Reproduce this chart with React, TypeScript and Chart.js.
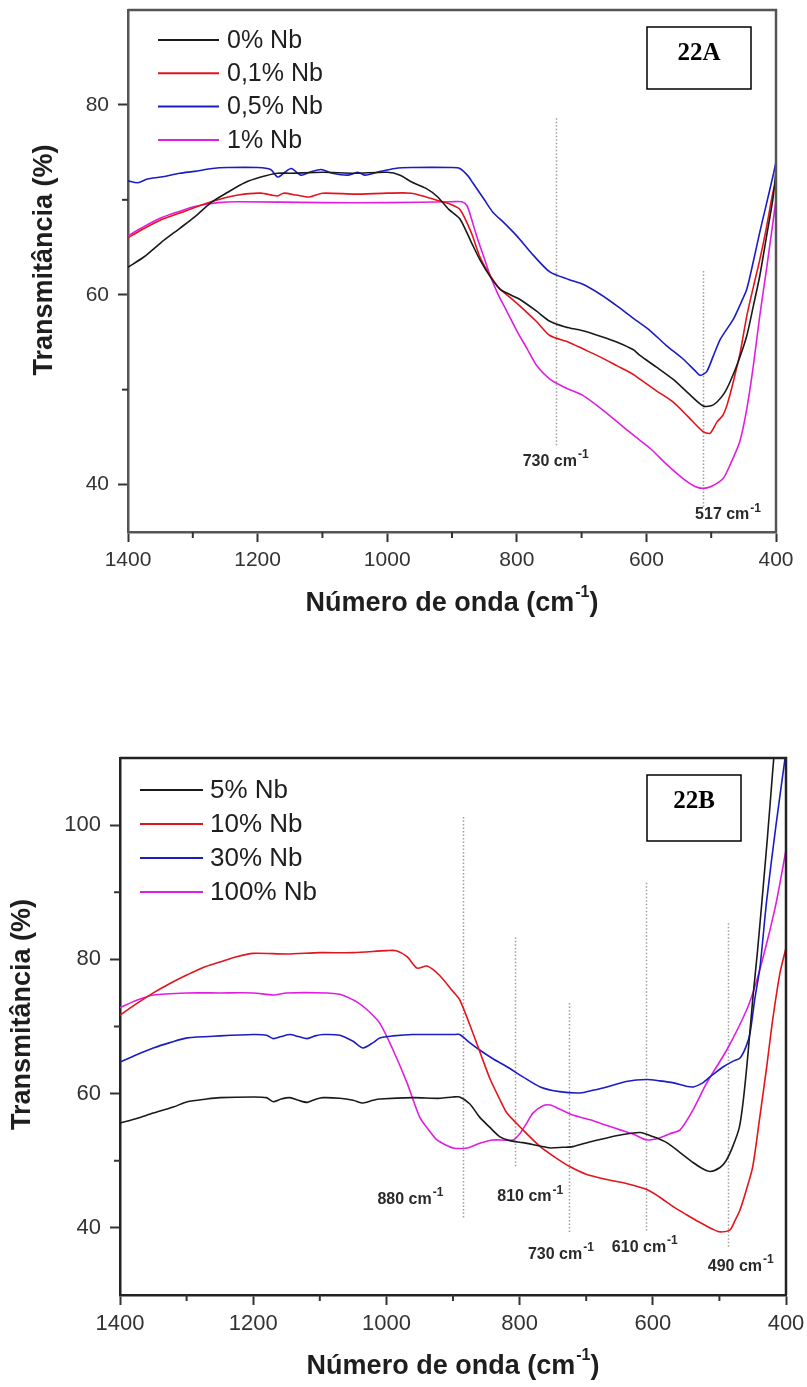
import React, { useEffect, useRef } from 'react';
import { Chart, registerables } from 'chart.js';

Chart.register(...registerables);

const SANS = "'Liberation Sans', Arial, Helvetica, sans-serif";
const SERIF = "'Liberation Serif', 'Times New Roman', serif";

// ---------------- Panel 22A ----------------
const labelsA = ['0% Nb', '0,1% Nb', '0,5% Nb', '1% Nb'];
const colorsA = ['#1a1a1a', '#e3141c', '#1c1cc4', '#e01ee0'];

const waveA0 = [1400, 1375, 1349, 1320, 1297, 1270, 1246, 1220, 1195, 1169, 1150, 1100, 1050, 1000, 980, 963, 940, 922, 905, 888, 870, 857, 840, 826, 810, 795, 770, 749, 725, 698, 670, 645, 620, 610, 585, 559, 535, 513, 500, 491, 480, 471, 458, 445, 435, 425, 415, 405, 400];
const transA0 = [62.9, 64.0, 65.5, 67.0, 68.2, 69.8, 70.8, 71.8, 72.4, 72.8, 72.8, 72.9, 72.8, 72.9, 72.6, 71.9, 71.2, 70.3, 69.0, 68.0, 65.5, 63.7, 61.8, 60.6, 60.0, 59.5, 58.3, 57.2, 56.6, 56.2, 55.6, 55.0, 54.2, 53.6, 52.4, 51.1, 49.6, 48.3, 48.3, 48.7, 49.6, 50.8, 53.0, 55.7, 58.8, 62.0, 66.0, 70.0, 73.0];

const waveA1 = [1400, 1380, 1349, 1320, 1297, 1261, 1230, 1195, 1170, 1160, 1140, 1120, 1100, 1050, 1000, 963, 940, 920, 905, 888, 870, 857, 841, 826, 810, 795, 770, 749, 720, 698, 670, 645, 620, 610, 585, 559, 535, 513, 502, 491, 482, 475, 466, 455, 445, 435, 425, 415, 405, 400];
const transA1 = [66.0, 66.8, 67.9, 68.6, 69.2, 70.0, 70.5, 70.7, 70.4, 70.7, 70.5, 70.3, 70.7, 70.6, 70.7, 70.7, 70.3, 69.9, 69.6, 69.0, 66.5, 64.0, 62.0, 60.6, 59.7, 58.8, 57.2, 55.7, 55.0, 54.3, 53.4, 52.5, 51.6, 51.1, 49.9, 48.7, 47.1, 45.6, 45.4, 46.6, 47.3, 48.5, 50.8, 54.0, 57.8, 60.8, 63.7, 67.0, 70.7, 72.0];

const waveA2 = [1400, 1385, 1370, 1349, 1320, 1297, 1270, 1246, 1200, 1180, 1169, 1158, 1148, 1133, 1120, 1102, 1085, 1060, 1045, 1034, 1010, 988, 963, 900, 888, 875, 868, 850, 837, 820, 800, 775, 749, 720, 698, 670, 645, 620, 594, 570, 543, 525, 517, 507, 497, 486, 466, 455, 445, 435, 425, 415, 405, 400];
const transA2 = [72.0, 71.8, 72.2, 72.4, 72.8, 73.0, 73.3, 73.4, 73.4, 73.2, 72.4, 72.9, 73.3, 72.6, 72.9, 73.2, 72.8, 72.6, 72.9, 72.6, 73.0, 73.3, 73.4, 73.4, 73.3, 72.5, 71.8, 70.0, 68.7, 67.6, 66.2, 64.2, 62.4, 61.6, 61.1, 60.0, 58.8, 57.5, 56.2, 54.7, 53.2, 52.0, 51.5, 51.9, 53.5, 55.3, 57.4, 59.0, 60.6, 63.5, 66.6, 69.5, 72.4, 74.0];

const waveA3 = [1400, 1380, 1349, 1320, 1297, 1261, 1230, 1100, 1000, 900, 885, 877, 870, 862, 850, 841, 830, 815, 800, 784, 770, 749, 725, 698, 670, 645, 620, 594, 570, 543, 525, 513, 500, 482, 470, 456, 445, 435, 425, 414, 405, 400];
const transA3 = [66.2, 67.0, 68.1, 68.8, 69.3, 69.7, 69.8, 69.7, 69.7, 69.8, 69.8, 69.4, 68.0, 66.2, 63.8, 62.0, 60.2, 58.2, 56.2, 54.3, 52.6, 51.1, 50.2, 49.4, 48.0, 46.6, 45.2, 43.8, 42.2, 40.6, 39.8, 39.6, 39.8, 40.6, 42.2, 44.5, 48.0, 52.5, 57.8, 63.0, 67.5, 70.0];

const yTicksA = [40, 50, 60, 70, 80];
const yLabelsA = [40, 60, 80];

const peakTextA = ['730', '517'];
const peakLineWaveA = [740, 513];
const peakLineTopA = [78.6, 62.5];
const peakLineBottomA = [44.1, 37.5];
const peakLabelWaveA = [740, 474];
const peakLabelTransA = [42.4, 36.8];

// ---------------- Panel 22B ----------------
const labelsB = ['5% Nb', '10% Nb', '30% Nb', '100% Nb'];
const colorsB = ['#1a1a1a', '#e3141c', '#1c1cc4', '#e01ee0'];

const waveB0 = [1400, 1375, 1350, 1320, 1299, 1270, 1250, 1200, 1180, 1170, 1158, 1145, 1132, 1119, 1105, 1095, 1070, 1050, 1035, 1020, 1010, 960, 920, 900, 890, 875, 860, 845, 830, 815, 795, 770, 754, 735, 720, 695, 669, 645, 619, 600, 579, 560, 539, 525, 514, 499, 490, 480, 470, 464, 457, 450, 443, 436, 428, 420, 415];
const transB0 = [55.6, 56.3, 57.1, 58.0, 58.8, 59.2, 59.4, 59.5, 59.4, 58.8, 59.2, 59.4, 59.0, 58.7, 59.2, 59.4, 59.3, 59.0, 58.6, 59.0, 59.2, 59.4, 59.3, 59.5, 59.5, 58.5, 56.5, 55.0, 53.6, 53.0, 52.7, 52.2, 51.9, 52.0, 52.1, 52.8, 53.4, 53.9, 54.2, 53.6, 52.7, 51.3, 49.7, 48.8, 48.4, 49.0, 50.0, 52.1, 55.0, 59.1, 66.0, 74.0, 81.0, 88.8, 98.0, 108.0, 114.0];

const waveB1 = [1400, 1375, 1350, 1325, 1299, 1275, 1250, 1225, 1200, 1150, 1100, 1050, 1000, 985, 969, 954, 939, 920, 900, 890, 870, 857, 844, 830, 819, 795, 769, 745, 724, 700, 669, 640, 609, 590, 570, 550, 529, 510, 499, 484, 477, 469, 460, 450, 440, 429, 420, 409, 400];
const transB1 = [71.7, 73.4, 75.0, 76.4, 77.7, 78.8, 79.6, 80.4, 80.9, 80.8, 81.0, 81.0, 81.3, 81.3, 80.4, 78.7, 79.0, 77.6, 75.2, 74.0, 69.0, 65.5, 62.1, 59.2, 57.1, 54.6, 52.1, 50.4, 49.1, 48.0, 47.2, 46.6, 45.7, 44.6, 43.2, 42.0, 40.8, 39.8, 39.4, 39.7, 41.0, 42.7, 45.5, 49.1, 56.0, 64.0, 71.0, 78.0, 81.7];

const waveB2 = [1400, 1375, 1350, 1325, 1299, 1250, 1200, 1180, 1170, 1158, 1145, 1132, 1119, 1107, 1095, 1070, 1050, 1035, 1020, 1010, 990, 960, 900, 890, 875, 860, 840, 819, 795, 769, 740, 709, 690, 669, 640, 609, 590, 569, 550, 539, 525, 519, 505, 494, 480, 469, 460, 454, 447, 439, 429, 415, 400];
const transB2 = [64.7, 65.8, 66.8, 67.6, 68.3, 68.6, 68.8, 68.7, 68.2, 68.5, 68.8, 68.5, 68.2, 68.6, 68.8, 68.7, 67.8, 66.8, 67.6, 68.3, 68.6, 68.8, 68.8, 68.8, 67.6, 66.5, 65.2, 64.0, 62.5, 61.0, 60.3, 60.1, 60.5, 61.0, 61.8, 62.1, 61.9, 61.6, 61.1, 61.0, 61.6, 62.1, 63.2, 64.0, 64.8, 65.3, 67.0, 69.0, 74.0, 78.9, 88.8, 100.0, 111.0];

const waveB3 = [1400, 1375, 1350, 1300, 1250, 1200, 1170, 1150, 1089, 1070, 1059, 1045, 1029, 1010, 990, 969, 950, 935, 924, 910, 900, 879, 860, 840, 810, 800, 790, 780, 765, 754, 740, 720, 694, 670, 649, 630, 609, 590, 575, 559, 540, 519, 489, 459, 445, 429, 414, 400];
const transB3 = [72.8, 73.9, 74.7, 75.0, 75.0, 75.0, 74.7, 75.0, 75.0, 74.8, 74.4, 73.7, 72.5, 70.5, 66.5, 61.6, 56.5, 54.4, 53.1, 52.3, 51.9, 51.9, 52.6, 53.1, 53.1, 54.0, 55.5, 57.1, 58.2, 58.3, 57.7, 56.8, 56.1, 55.3, 54.6, 54.0, 53.1, 53.4, 54.0, 54.6, 57.5, 61.6, 66.5, 72.5, 76.5, 82.4, 88.8, 96.3];

const yTicksB = [40, 50, 60, 70, 80, 90, 100];
const yLabelsB = [40, 60, 80, 100];

const peakTextB = ['880', '810', '730', '610', '490'];
const peakLineWaveB = [885, 807, 726, 610, 487];
const peakLineTopB = [101.2, 83.3, 73.5, 91.4, 85.4];
const peakLineBottomB = [41.5, 49.1, 39.4, 39.4, 37.2];
const peakLabelWaveB = [964, 784, 738, 612, 468];
const peakLabelTransB = [44.2, 44.6, 36.0, 37.1, 34.2];

// ---------------- shared axis values ----------------
const xTicks = [1400, 1300, 1200, 1100, 1000, 900, 800, 700, 600, 500, 400];
const xLabels = [1400, 1200, 1000, 800, 600, 400];
const yTitle = 'Transmitância (%)';

type Panel = {
  tag: string;
  labels: string[];
  colors: string[];
  waves: number[][];
  trans: number[][];
  yMin: number;
  yMax: number;
  yTicks: number[];
  yLabels: number[];
  peakText: string[];
  peakLineWave: number[];
  peakLineTop: number[];
  peakLineBottom: number[];
  peakLabelWave: number[];
  peakLabelTrans: number[];
  padding: { left: number; top: number; right: number; bottom: number };
  yAxisW: number;
  xAxisH: number;
  yTitleX: number;
  yTitleShift: number;
  tickFont: number;
  legendFont: number;
  legendTop: number;
  legendGap: number;
  legendLine: [number, number];
  legendText: number;
  frameColor: string;
  tagBox: { right: number; top: number; w: number; h: number };
};

const panelA: Panel = {
  tag: '22A',
  labels: labelsA,
  colors: colorsA,
  waves: [waveA0, waveA1, waveA2, waveA3],
  trans: [transA0, transA1, transA2, transA3],
  yMin: 35,
  yMax: 90,
  yTicks: yTicksA,
  yLabels: yLabelsA,
  peakText: peakTextA,
  peakLineWave: peakLineWaveA,
  peakLineTop: peakLineTopA,
  peakLineBottom: peakLineBottomA,
  peakLabelWave: peakLabelWaveA,
  peakLabelTrans: peakLabelTransA,
  padding: { left: 0, top: 10, right: 31, bottom: 0 },
  yAxisW: 128,
  xAxisH: 118,
  yTitleX: 45,
  yTitleShift: -11,
  tickFont: 21,
  legendFont: 25,
  legendTop: 30,
  legendGap: 33.3,
  legendLine: [30, 91],
  legendText: 99,
  frameColor: '#555555',
  tagBox: { right: 25, top: 17, w: 104, h: 62 },
};

const panelB: Panel = {
  tag: '22B',
  labels: labelsB,
  colors: colorsB,
  waves: [waveB0, waveB1, waveB2, waveB3],
  trans: [transB0, transB1, transB2, transB3],
  yMin: 30,
  yMax: 110,
  yTicks: yTicksB,
  yLabels: yLabelsB,
  peakText: peakTextB,
  peakLineWave: peakLineWaveB,
  peakLineTop: peakLineTopB,
  peakLineBottom: peakLineBottomB,
  peakLabelWave: peakLabelWaveB,
  peakLabelTrans: peakLabelTransB,
  padding: { left: 0, top: 58, right: 21, bottom: 0 },
  yAxisW: 120,
  xAxisH: 92,
  yTitleX: 23,
  yTitleShift: -12,
  tickFont: 22,
  legendFont: 26,
  legendTop: 32,
  legendGap: 34,
  legendLine: [20, 83],
  legendText: 90,
  frameColor: '#222222',
  tagBox: { right: 45, top: 17, w: 94, h: 66 },
};

function drawSup(
  ctx: CanvasRenderingContext2D,
  before: string,
  sup: string,
  after: string,
  cx: number,
  cy: number,
  size: number,
  supSize: number,
  weight: string
) {
  const main = `${weight} ${size}px ${SANS}`;
  const small = `${weight} ${supSize}px ${SANS}`;
  ctx.font = main;
  const w1 = ctx.measureText(before).width;
  const w3 = after ? ctx.measureText(after).width : 0;
  ctx.font = small;
  const w2 = ctx.measureText(sup).width;
  let x = cx - (w1 + w2 + w3 + 1) / 2;
  ctx.textAlign = 'left';
  ctx.textBaseline = 'middle';
  ctx.font = main;
  ctx.fillText(before, x, cy);
  x += w1 + 1;
  ctx.font = small;
  ctx.fillText(sup, x, cy - size * 0.42);
  x += w2;
  if (after) {
    ctx.font = main;
    ctx.fillText(after, x, cy);
  }
}

function makePlugin(p: Panel) {
  return {
    id: 'panelDecor',
    beforeDatasetsDraw(chart: any) {
      const { ctx, chartArea: a, scales } = chart;
      const xs = scales.x;
      const ys = scales.y;
      ctx.save();
      ctx.beginPath();
      ctx.rect(a.left, a.top, a.right - a.left, a.bottom - a.top);
      ctx.clip();
      ctx.strokeStyle = '#a0a0a0';
      ctx.lineWidth = 1.5;
      ctx.setLineDash([1.5, 2]);
      p.peakLineWave.forEach((w, i) => {
        const px = Math.round(xs.getPixelForValue(w)) + 0.5;
        ctx.beginPath();
        ctx.moveTo(px, ys.getPixelForValue(p.peakLineTop[i]));
        ctx.lineTo(px, ys.getPixelForValue(p.peakLineBottom[i]));
        ctx.stroke();
      });
      ctx.restore();
    },
    afterDraw(chart: any) {
      const { ctx, chartArea: a, scales } = chart;
      const xs = scales.x;
      const ys = scales.y;
      ctx.save();
      // frame top & right
      ctx.strokeStyle = p.frameColor;
      ctx.lineWidth = 2.5;
      ctx.beginPath();
      ctx.moveTo(a.left, a.top);
      ctx.lineTo(a.right, a.top);
      ctx.lineTo(a.right, a.bottom);
      ctx.stroke();
      // minor ticks
      ctx.lineWidth = 2;
      ctx.strokeStyle = '#333333';
      xTicks.forEach((v) => {
        if (xLabels.includes(v)) return;
        const px = xs.getPixelForValue(v);
        ctx.beginPath();
        ctx.moveTo(px, a.bottom);
        ctx.lineTo(px, a.bottom + 6);
        ctx.stroke();
      });
      p.yTicks.forEach((v) => {
        if (p.yLabels.includes(v)) return;
        const py = ys.getPixelForValue(v);
        ctx.beginPath();
        ctx.moveTo(a.left - 6, py);
        ctx.lineTo(a.left, py);
        ctx.stroke();
      });
      // peak labels
      ctx.fillStyle = '#2a2a2a';
      p.peakText.forEach((t, i) => {
        drawSup(
          ctx,
          `${t} cm`,
          '-1',
          '',
          xs.getPixelForValue(p.peakLabelWave[i]),
          ys.getPixelForValue(p.peakLabelTrans[i]),
          16,
          12,
          'bold'
        );
      });
      // legend
      chart.data.datasets.forEach((ds: any, i: number) => {
        const y = a.top + p.legendTop + i * p.legendGap;
        ctx.strokeStyle = ds.borderColor;
        ctx.lineWidth = 2;
        ctx.beginPath();
        ctx.moveTo(a.left + p.legendLine[0], y);
        ctx.lineTo(a.left + p.legendLine[1], y);
        ctx.stroke();
        ctx.fillStyle = '#1e1e1e';
        ctx.font = `${p.legendFont}px ${SANS}`;
        ctx.textAlign = 'left';
        ctx.textBaseline = 'middle';
        ctx.fillText(ds.label, a.left + p.legendText, y + 1);
      });
      // panel tag box
      const bx = a.right - p.tagBox.right - p.tagBox.w;
      const by = a.top + p.tagBox.top;
      ctx.strokeStyle = '#000';
      ctx.lineWidth = 1.5;
      ctx.strokeRect(bx, by, p.tagBox.w, p.tagBox.h);
      ctx.fillStyle = '#000';
      ctx.font = `bold 25px ${SERIF}`;
      ctx.textAlign = 'center';
      ctx.textBaseline = 'middle';
      ctx.fillText(p.tag, bx + p.tagBox.w / 2, by + 27);
      // x title
      ctx.fillStyle = '#1e1e1e';
      drawSup(ctx, 'Número de onda (cm', '-1', ')', (a.left + a.right) / 2, a.bottom + 72, 27, 16, 'bold');
      // y title
      ctx.save();
      ctx.translate(p.yTitleX, (a.top + a.bottom) / 2 + p.yTitleShift);
      ctx.rotate(-Math.PI / 2);
      ctx.font = `bold 27px ${SANS}`;
      ctx.textAlign = 'center';
      ctx.textBaseline = 'middle';
      ctx.fillStyle = '#1e1e1e';
      ctx.fillText(yTitle, 0, 0);
      ctx.restore();
      ctx.restore();
    },
  };
}

function makeChart(canvas: HTMLCanvasElement, p: Panel) {
  const datasets = p.labels.map((label, i) => ({
    label,
    data: p.waves[i].map((w, j) => ({ x: w, y: p.trans[i][j] })),
    borderColor: p.colors[i],
    backgroundColor: p.colors[i],
    borderWidth: 1.6,
    pointRadius: 0,
    tension: 0.25,
    fill: false,
  }));
  return new Chart(canvas, {
    type: 'line',
    data: { datasets },
    options: {
      responsive: false,
      animation: false,
      layout: { padding: p.padding },
      plugins: {
        legend: { display: false },
        tooltip: { enabled: false },
        title: { display: false },
      },
      scales: {
        x: {
          type: 'linear',
          min: 400,
          max: 1400,
          reverse: true,
          afterBuildTicks: (ax: any) => {
            ax.ticks = xTicks.map((v) => ({ value: v }));
          },
          afterFit: (ax: any) => {
            ax.height = p.xAxisH;
            ax.paddingLeft = 0;
            ax.paddingRight = 0;
          },
          ticks: {
            autoSkip: false,
            maxRotation: 0,
            padding: 6,
            color: '#333333',
            font: { family: SANS, size: p.tickFont },
            callback: (v: any) => (xLabels.includes(Number(v)) ? String(v) : ''),
          },
          grid: {
            drawOnChartArea: false,
            drawTicks: true,
            tickLength: 10,
            tickWidth: 2,
            tickColor: (c: any) => (c.tick && xLabels.includes(c.tick.value) ? '#333333' : 'rgba(0,0,0,0)'),
          },
          border: { display: true, color: p.frameColor, width: 2.5 },
        },
        y: {
          type: 'linear',
          min: p.yMin,
          max: p.yMax,
          afterBuildTicks: (ax: any) => {
            ax.ticks = p.yTicks.map((v) => ({ value: v }));
          },
          afterFit: (ax: any) => {
            ax.width = p.yAxisW;
            ax.paddingTop = 0;
            ax.paddingBottom = 0;
          },
          ticks: {
            autoSkip: false,
            padding: 9,
            color: '#333333',
            font: { family: SANS, size: p.tickFont },
            callback: (v: any) => (p.yLabels.includes(Number(v)) ? String(v) : ''),
          },
          grid: {
            drawOnChartArea: false,
            drawTicks: true,
            tickLength: 10,
            tickWidth: 2,
            tickColor: (c: any) => (c.tick && p.yLabels.includes(c.tick.value) ? '#333333' : 'rgba(0,0,0,0)'),
          },
          border: { display: true, color: p.frameColor, width: 2.5 },
          title: { display: false },
        },
      },
    },
    plugins: [makePlugin(p)],
  } as any);
}

export default function App() {
  const ref1 = useRef<HTMLCanvasElement>(null);
  const ref2 = useRef<HTMLCanvasElement>(null);
  useEffect(() => {
    const c1 = makeChart(ref1.current!, panelA);
    const c2 = makeChart(ref2.current!, panelB);
    return () => {
      c1.destroy();
      c2.destroy();
    };
  }, []);
  return (
    <div style={{ position: 'absolute', left: 0, top: 0, width: 807, height: 1387, background: '#ffffff', overflow: 'hidden' }}>
      <canvas ref={ref1} width={807} height={650} style={{ position: 'absolute', left: 0, top: 0, width: 807, height: 650 }} />
      <canvas ref={ref2} width={807} height={687} style={{ position: 'absolute', left: 0, top: 700, width: 807, height: 687 }} />
    </div>
  );
}
